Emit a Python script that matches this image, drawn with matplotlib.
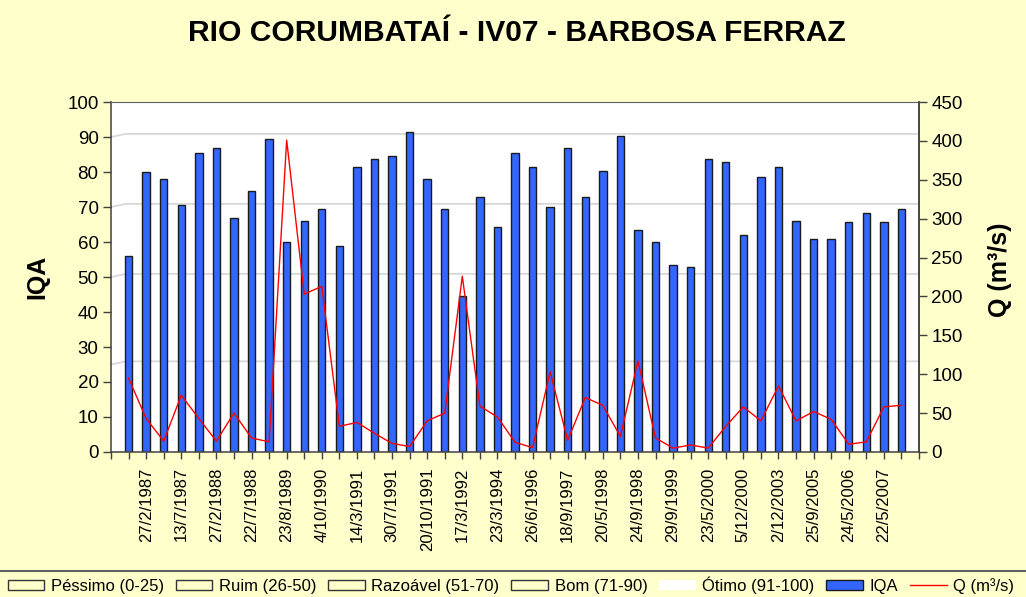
import numpy as np
import matplotlib
matplotlib.use("Agg")
import matplotlib.pyplot as plt
from matplotlib.patches import Patch
from matplotlib.lines import Line2D

plt.rcParams['font.family'] = ['Liberation Sans', 'DejaVu Sans']

title = "RIO CORUMBATAÍ - IV07 - BARBOSA FERRAZ"

# Sampling dates (every other campaign is labelled on the axis)
date_labels = ["27/2/1987", "13/7/1987", "27/2/1988", "22/7/1988", "23/8/1989",
               "4/10/1990", "14/3/1991", "30/7/1991", "20/10/1991", "17/3/1992",
               "23/3/1994", "26/6/1996", "18/9/1997", "20/5/1998", "24/9/1998",
               "29/9/1999", "23/5/2000", "5/12/2000", "2/12/2003", "25/9/2005",
               "24/5/2006", "22/5/2007"]

# Water quality index per campaign
iqa = [56, 80, 78, 70.5, 85.5, 86.8, 67, 74.6, 89.3, 60.1,
       66, 69.3, 58.8, 81.5, 83.8, 84.5, 91.3, 77.9, 69.3, 44.6,
       72.9, 64.4, 85.5, 81.5, 70, 86.8, 72.9, 80.2, 90.4, 63.3,
       60.1, 53.5, 52.9, 83.8, 82.9, 62.1, 78.5, 81.5, 66, 60.8,
       60.8, 65.7, 68.3, 65.7, 69.3]

# Discharge per campaign (m³/s)
vazao = [95, 43, 14, 73, 43, 14, 50, 18, 13, 401,
         203, 213, 33, 38, 24, 11, 7, 40, 50, 226,
         59, 45, 12.5, 5.6, 103, 15, 70, 60, 20, 117,
         18, 5, 9, 5, 33, 58, 40, 85, 40, 52,
         42, 10, 13, 58, 60]

# Quality classes (IQA ranges)
class_names = ["Péssimo (0-25)", "Ruim (26-50)", "Razoável (51-70)",
               "Bom (71-90)", "Ótimo (91-100)"]
class_bounds = [25, 50, 70, 90]

bg = "#FFFFCC"
bar_color = "#3366FF"
axis_color = "#404040"

fig = plt.figure(figsize=(10.26, 5.97), dpi=100, facecolor=bg)
ax = fig.add_axes([0.1082, 0.2429, 0.7875, 0.5862])
ax.set_facecolor("white")

n = len(iqa)
x = np.arange(1, n + 1)

# class boundary lines with a small depth offset at the left edge
for b in class_bounds:
    ax.plot([0, 0.85, n + 1], [b, b + 0.9, b + 0.9], color="#d8d8d8",
            lw=1.3, zorder=1, clip_on=False)

ax.bar(x, iqa, width=0.42, color=bar_color, edgecolor="#1a1a1a",
       linewidth=1.0, zorder=2)

ax.set_xlim(0, n + 1)
ax.set_ylim(0, 100)
ax.set_yticks(np.arange(0, 101, 10))

ticks = np.arange(0, n + 2)
labels = [""] * len(ticks)
for k, lab in enumerate(date_labels):
    labels[2 * (k + 1)] = lab
ax.set_xticks(ticks)
ax.set_xticklabels(labels, rotation=90, fontsize=12, va="top", ha="center")
ax.tick_params(axis="x", direction="out", length=5, width=1,
               color=axis_color, pad=6)
ax.tick_params(axis="y", direction="out", length=6, width=1,
               color=axis_color, labelsize=13.5, pad=3)

for s in ["left", "bottom", "right"]:
    ax.spines[s].set_color(axis_color)
    ax.spines[s].set_linewidth(1.1)
ax.spines["top"].set_color("#606060")

ax2 = ax.twinx()
ax2.plot(x, vazao, color="#FF0000", lw=1.0, zorder=3)
ax2.set_ylim(0, 450)
ax2.set_yticks(np.arange(0, 451, 50))
ax2.tick_params(axis="y", direction="out", length=6, width=1,
                color=axis_color, labelsize=13.5, pad=3)
for s in ["left", "bottom", "right", "top"]:
    ax2.spines[s].set_visible(False)
ax2.spines["right"].set_visible(True)
ax2.spines["right"].set_color(axis_color)
ax2.spines["right"].set_linewidth(1.1)

fig.text(517 / 1026, 1 - 33 / 597, title, ha="center", va="center",
         fontsize=21.6, fontweight="bold")
fig.text(37 / 1026, 1 - 277 / 597, "IQA", rotation=90, ha="center",
         va="center", fontsize=18, fontweight="bold")
fig.text(1000 / 1026, 1 - 270 / 597, "Q (m³/s)", rotation=90, ha="center",
         va="center", fontsize=18, fontweight="bold")

# legend
handles = [Patch(facecolor="none", edgecolor="#333333", lw=1) for _ in range(4)]
handles.append(Patch(facecolor="white", edgecolor="none"))
handles.append(Patch(facecolor=bar_color, edgecolor="#1a1a1a", lw=1))
handles.append(Line2D([0], [0], color="#FF0000", lw=1.0))
leg_labels = class_names + ["IQA", "Q (m³/s)"]
fig.legend(handles, leg_labels, ncol=7, loc="center",
           bbox_to_anchor=(0.498, 1 - 585 / 597), frameon=False, fontsize=12,
           handlelength=2.2, handleheight=0.55, handletextpad=0.4,
           columnspacing=0.7, borderpad=0)
fig.add_artist(Line2D([0, 1], [1 - 571 / 597] * 2, color="#606060", lw=1.5,
                      transform=fig.transFigure))

fig.savefig("out.png", dpi=100, facecolor=bg)
